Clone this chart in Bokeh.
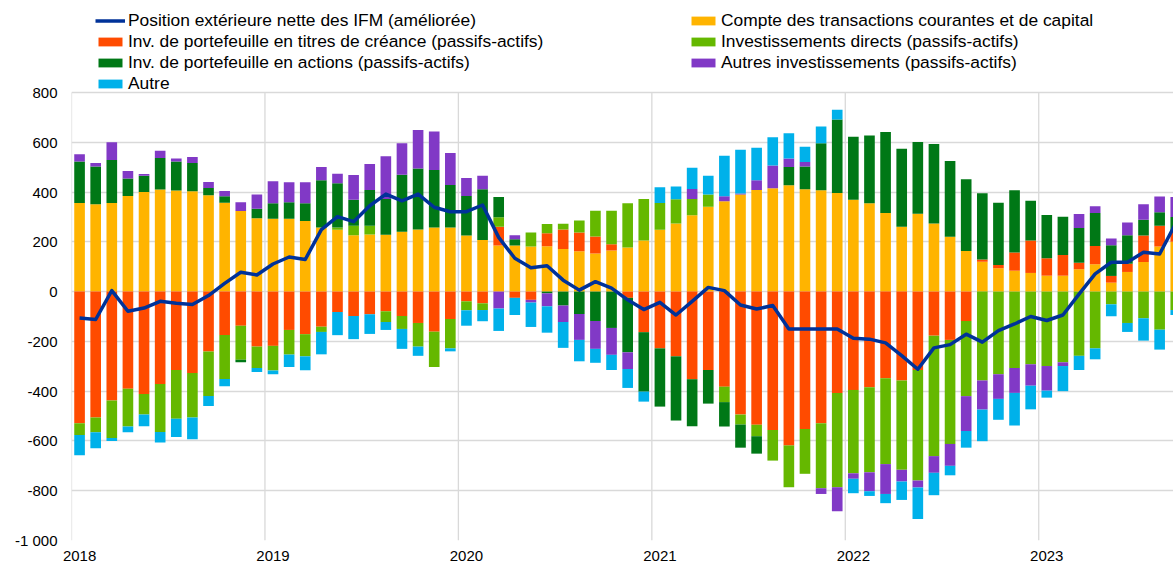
import numpy as np
from bokeh.plotting import figure
from bokeh.models import ColumnDataSource, FixedTicker, Legend, LegendItem, Range1d
from bokeh.embed import file_html
from bokeh.resources import INLINE

# Monthly observations, Jan 2018 .. Sep 2023 (EUR billions)
months = [f"{y}-{m:02d}" for y in range(2018, 2024) for m in range(1, 13)][:69]
year_labels = ["2018", "2019", "2020", "2021", "2022", "2023"]

position = [-106, -112, 4, -79, -66, -39, -47, -52, -16, 33, 78, 67,
            111, 139, 129, 249, 301, 281, 345, 392, 365, 392, 339, 321,
            321, 348, 218, 134, 96, 104, 46, 6, 40, 14, -33, -72,
            -43, -94, -39, 17, 4, -54, -70, -56, -150, -150, -150, -150,
            -187, -191, -206, -257, -312, -226, -213, -171, -203, -157, -130, -100,
            -116, -94, -10, 71, 118, 118, 158, 151, 275]

compte = [356, 351, 356, 384, 400, 410, 406, 403, 387, 357, 324, 295,
          293, 293, 284, 258, 249, 226, 229, 228, 241, 250, 258, 258,
          225, 207, 185, 185, 181, 182, 171, 162, 153, 165, 177, 205,
          249, 274, 307, 341, 363, 390, 408, 415, 427, 411, 407, 396,
          369, 355, 316, 261, 313, 274, 220, 163, 120, 94, 84, 75,
          64, 64, 90, 110, 36, 79, 119, 181, 200]

titres = [-529, -506, -438, -390, -411, -371, -315, -327, -241, -174, -137, -221,
          -218, -154, -171, -141, -82, -98, -91, -79, -98, -126, -161, -110,
          -39, -47, 76, -25, -33, 52, 79, 76, 68, 25, -25, -163,
          -228, -260, -352, -315, -382, -494, -535, -556, -618, -552, -529, -407,
          -395, -384, -348, -357, -315, -177, -194, -118, 9, 13, 73, 130,
          70, 83, 26, 73, 27, 33, 106, 84, 40]

directs = [-47, -59, -150, -152, -83, -193, -196, -179, -178, -177, -137, -86,
           -99, -99, -89, -21, 9, 39, 36, -43, -52, -95, -142, -118,
           -36, -27, 38, 0, 56, 38, 23, 48, 104, 135, 178, 167,
           107, 97, 65, 49, -62, -40, -46, -123, -168, -180, -261, -379,
           -335, -342, -345, -359, -444, -484, -418, -302, -357, -332, -307, -292,
           -299, -284, -258, -228, -51, -126, -107, -153, -74]

actions = [167, 152, 173, 70, 66, 127, 117, 114, 29, 26, -10, 38,
           62, 66, 71, 189, 177, 104, 143, 144, 229, 245, 231, 170,
           159, 204, 81, 25, 0, -7, -56, -90, -118, -146, -219, -239,
           -234, -258, -189, -135, -98, -93, -70, 0, 74, 92, 189, 296,
           253, 272, 325, 313, 288, 319, 305, 288, 266, 250, 250, 160,
           174, 154, 140, 133, 123, 114, 64, 54, 60]

autres = [29, 14, 71, 31, 7, 29, 12, 24, 24, 21, 35, 57,
          88, 80, 84, 54, 39, 100, 105, 172, 126, 154, 154, 129,
          72, 55, -68, 16, -11, -52, -66, -104, -112, -108, -67, 0,
          0, 0, 40, 0, 20, 4, 39, 92, 34, 18, -23, -96,
          -22, -76, -120, -47, -28, -67, -88, -140, -117, -99, -100, -86,
          -99, -15, 56, 27, 27, 52, 62, 63, 80]

autre = [-81, -64, -12, -23, -47, -42, -73, -87, -41, -29, 0, -16,
         -15, -50, -56, -90, -93, -93, -79, -32, -80, -37, 0, -12,
         -62, -45, -90, -69, -98, -106, -104, -86, -56, -61, -76, -40,
         63, 51, 86, 76, 163, 176, 131, 113, 101, 61, 67, 39,
         -58, -19, -37, -74, -127, -90, -38, -67, -127, -84, -131, -95,
         -28, -101, -57, -44, -48, -36, -90, -80, -20]

labels = {
    "position": "Position extérieure nette des IFM (améliorée)",
    "compte": "Compte des transactions courantes et de capital",
    "titres": "Inv. de portefeuille en titres de créance (passifs-actifs)",
    "directs": "Investissements directs (passifs-actifs)",
    "actions": "Inv. de portefeuille en actions (passifs-actifs)",
    "autres": "Autres investissements (passifs-actifs)",
    "autre": "Autre",
}
colors = {
    "position": "#003299",
    "compte": "#FFB400",
    "titres": "#FF4B00",
    "directs": "#65B800",
    "actions": "#007816",
    "autres": "#8139C6",
    "autre": "#00B1EA",
}

n = len(months)
x = np.arange(n)
yt = list(range(-1000, 801, 200))

# frame covers the full height (legend lives in its upper part, above the 800 line)
PX_PER_UNIT = 448 / 1800.0
y_top = yt[-1] + 92 / PX_PER_UNIT

p = figure(width=1173, height=565, x_range=Range1d(-0.5, 67.86), y_range=Range1d(yt[0], y_top),
           toolbar_location=None, output_backend="svg",
           min_border_left=71, min_border_right=0, min_border_top=0, min_border_bottom=25)
p.outline_line_color = None
p.background_fill_color = "white"

# vertical year gridlines, limited to the value span of the axis
bounds = [12 * i - 0.5 for i in range(len(year_labels))]
p.segment(x0=bounds, y0=[yt[0]] * len(bounds), x1=bounds, y1=[yt[-1]] * len(bounds),
          line_color="#D9D9D9", line_width=1.3, level="underlay")

pos_base = np.zeros(n)
neg_base = np.zeros(n)
rends = {}
for key, vals in [("compte", compte), ("titres", titres), ("directs", directs),
                  ("actions", actions), ("autres", autres), ("autre", autre)]:
    v = np.array(vals, dtype=float)
    bottom = np.where(v >= 0, pos_base, neg_base)
    top = bottom + v
    pos_base = pos_base + np.where(v > 0, v, 0)
    neg_base = neg_base + np.where(v < 0, v, 0)
    src = ColumnDataSource(dict(x=x, bottom=bottom, top=top))
    rends[key] = p.vbar(x="x", width=0.66, bottom="bottom", top="top", source=src,
                        fill_color=colors[key], line_color=None)

rends["position"] = p.line(x, position, line_color=colors["position"], line_width=3.5,
                           line_join="round")

# axes
p.yaxis.ticker = FixedTicker(ticks=yt)
p.yaxis.major_label_overrides = {v: f"{v:,}".replace(",", " ") for v in yt}
xt = [12 * i for i in range(len(year_labels))]
p.xaxis.ticker = FixedTicker(ticks=xt)
p.xaxis.major_label_overrides = {t: lab for t, lab in zip(xt, year_labels)}
for ax in (p.xaxis, p.yaxis):
    ax.axis_line_color = None
    ax.major_tick_line_color = None
    ax.minor_tick_line_color = None
    ax.major_tick_out = 0
    ax.major_label_text_font = "Liberation Sans"
    ax.major_label_text_font_size = "15px"
    ax.major_label_text_color = "black"
p.yaxis.major_label_standoff = 14
p.xaxis.major_label_standoff = 10
p.xaxis.major_label_text_line_height = 1.0

p.xgrid.grid_line_color = None
p.ygrid.grid_line_color = "#D9D9D9"
p.ygrid.grid_line_width = 1.3

def make_legend(keys, loc):
    leg = Legend(items=[LegendItem(label=labels[k], renderers=[rends[k]]) for k in keys],
                 location=loc, orientation="vertical")
    leg.border_line_color = None
    leg.background_fill_alpha = 0
    leg.padding = 0
    leg.margin = 0
    leg.spacing = 0
    leg.glyph_width = 30
    leg.glyph_height = 11
    leg.label_standoff = 3
    leg.label_height = 21
    leg.label_text_font = "Liberation Sans"
    leg.label_text_font_size = "17.4px"
    leg.label_text_color = "black"
    return leg

# location = bottom-left corner of each legend, in px from the frame's bottom-left
p.add_layout(make_legend(["position", "titres", "actions", "autre"], (24, 446)), "center")
p.add_layout(make_legend(["compte", "directs", "autres"], (617, 467)), "center")

open("out.html", "w").write(file_html(p, INLINE))
